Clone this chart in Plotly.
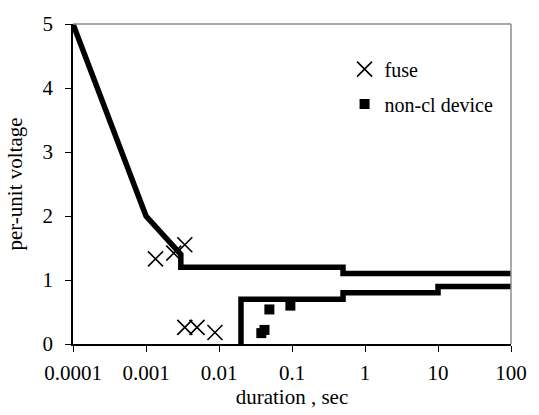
import plotly.graph_objects as go

# ---- data ----
upper_x = [0.0001, 0.001, 0.003, 0.003, 0.5, 0.5, 100]
upper_y = [5, 2, 1.4, 1.2, 1.2, 1.1, 1.1]
lower_x = [0.02, 0.02, 0.5, 0.5, 10, 10, 100]
lower_y = [0, 0.7, 0.7, 0.8, 0.8, 0.9, 0.9]
fuse_x = [0.00135, 0.0024, 0.0034, 0.0034, 0.005, 0.0088]
fuse_y = [1.33, 1.42, 1.55, 0.26, 0.26, 0.18]
dev_x = [0.038, 0.042, 0.049, 0.095]
dev_y = [0.17, 0.22, 0.54, 0.6]
x_ticks = [0.0001, 0.001, 0.01, 0.1, 1, 10, 100]
x_ticktext = ["0.0001", "0.001", "0.01", "0.1", "1", "10", "100"]
y_ticks = [0, 1, 2, 3, 4, 5]

FONT = "'Liberation Serif', 'Times New Roman', 'DejaVu Serif', serif"
F21 = dict(family=FONT, size=21, color="black")
F20 = dict(family=FONT, size=20, color="black")

fig = go.Figure()
fig.add_trace(go.Scatter(x=upper_x, y=upper_y, mode="lines",
                         line=dict(color="black", width=5.5), showlegend=False,
                         hoverinfo="skip"))
fig.add_trace(go.Scatter(x=lower_x, y=lower_y, mode="lines",
                         line=dict(color="black", width=5.5), showlegend=False,
                         hoverinfo="skip"))
fig.add_trace(go.Scatter(x=fuse_x, y=fuse_y, mode="markers", name="fuse",
                         legendgroup="a",
                         marker=dict(symbol="x-thin-open", size=15,
                                     line=dict(color="black", width=1.6),
                                     color="black"),
                         cliponaxis=False))
fig.add_trace(go.Scatter(x=dev_x, y=dev_y, mode="markers", name="non-cl device",
                         legendgroup="b",
                         marker=dict(symbol="square", size=10, color="black",
                                     line=dict(width=0)),
                         cliponaxis=False))

fig.update_layout(
    width=539, height=415,
    margin=dict(l=73, r=18, t=20, b=70),
    paper_bgcolor="white", plot_bgcolor="white",
    font=F21,
    showlegend=True,
    legend=dict(x=0.62, y=0.92, xanchor="left", yanchor="top",
                bgcolor="rgba(0,0,0,0)", font=F20,
                tracegroupgap=6, itemwidth=30),
    xaxis=dict(type="log", range=[-4, 2], tickvals=x_ticks, ticktext=x_ticktext,
               showgrid=False, zeroline=False, showline=True, linecolor="black",
               linewidth=1.5, ticks="outside", ticklen=6, tickcolor="black",
               tickwidth=1, tickfont=F21, ticklabelstandoff=3,
               title=dict(text="duration , sec", font=F21, standoff=3)),
    yaxis=dict(range=[0, 5], tickvals=y_ticks, showgrid=False, zeroline=False,
               showline=True, linecolor="black", linewidth=1.5, ticks="outside",
               ticklen=6, tickcolor="black", tickwidth=1, tickfont=F21,
               ticklabelstandoff=8,
               title=dict(text="per-unit voltage", font=F21, standoff=14)),
    xaxis2=dict(type="log", range=[-4, 2], overlaying="x", anchor="y", side="bottom",
                tickvals=x_ticks, showticklabels=False, ticks="inside", ticklen=6,
                tickcolor="black", showgrid=False, zeroline=False, showline=False),
    yaxis2=dict(range=[0, 5], overlaying="y", anchor="x", side="left",
                tickvals=y_ticks, showticklabels=False, ticks="inside", ticklen=6,
                tickcolor="black", showgrid=False, zeroline=False, showline=False),
    shapes=[
        dict(type="line", xref="paper", yref="paper", x0=0, x1=1, y0=1, y1=1,
             line=dict(color="#8c8c8c", width=1.5)),
        dict(type="line", xref="paper", yref="paper", x0=1, x1=1, y0=0, y1=1,
             line=dict(color="#8c8c8c", width=1.5)),
    ],
)
fig.write_html("out.html")
